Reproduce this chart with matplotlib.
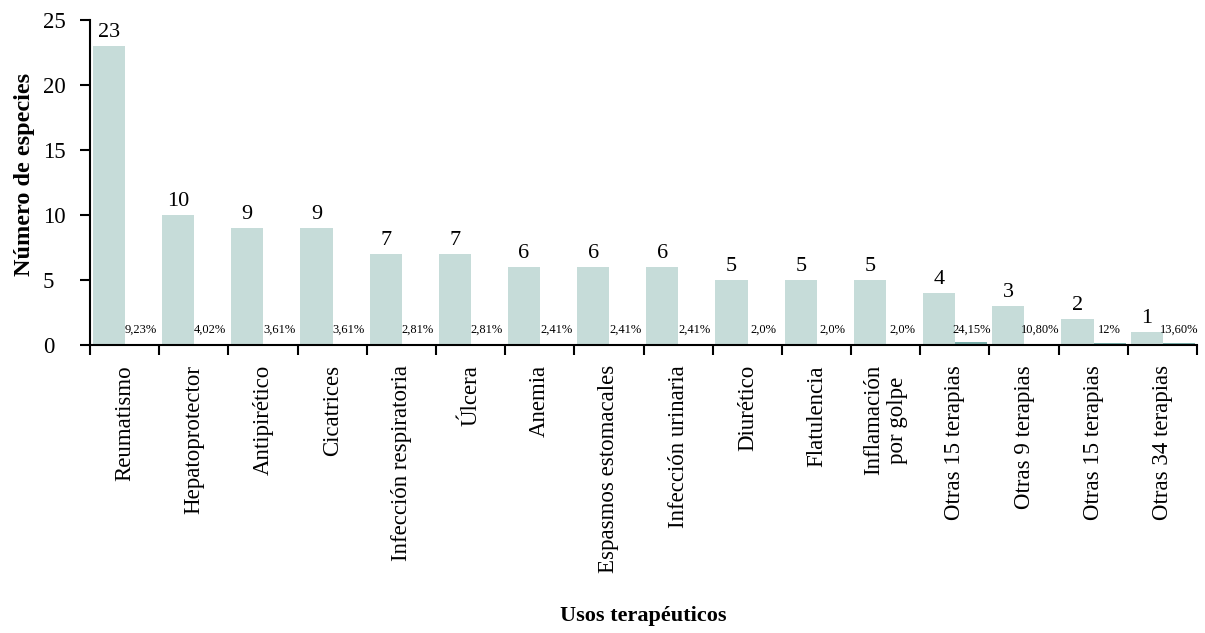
import matplotlib
matplotlib.use("Agg")
import matplotlib.pyplot as plt
import numpy as np

categories = ["Reumatismo", "Hepatoprotector", "Antipirético", "Cicatrices",
              "Infección respiratoria", "Úlcera", "Anemia", "Espasmos estomacales",
              "Infección urinaria", "Diurético", "Flatulencia", "Inflamación\npor golpe",
              "Otras 15 terapias", "Otras 9 terapias", "Otras 15 terapias", "Otras 34 terapias"]
especies = [23, 10, 9, 9, 7, 7, 6, 6, 6, 5, 5, 5, 4, 3, 2, 1]
porcentaje = [9.23, 4.02, 3.61, 3.61, 2.81, 2.81, 2.41, 2.41, 2.41, 2.0, 2.0, 2.0, 24.15, 10.80, 12, 13.60]
porcentaje_labels = ["9,23%", "4,02%", "3,61%", "3,61%", "2,81%", "2,81%", "2,41%", "2,41%",
                     "2,41%", "2,0%", "2,0%", "2,0%", "24,15%", "10,80%", "12%", "13,60%"]
yticks = [0, 5, 10, 15, 20, 25]

plt.rcParams['font.family'] = ['Liberation Serif', 'DejaVu Serif']

fig = plt.figure(figsize=(12.05, 6.33), dpi=100)
ax = fig.add_axes([0.0747, 0.455, 0.9187, 0.513])

x = np.arange(len(categories))
w = 0.465
main_c = "#c6dcd9"
sec_c = "#7aafab"
ax.bar(x + 0.04, especies, width=w, align='edge', color=main_c)
ax.bar(x + 0.04 + w, np.array(porcentaje) / 100.0, width=w, align='edge', color=sec_c)

for xi, v in zip(x, especies):
    ax.text(xi + 0.04 + w / 2, v + 0.7, str(v), ha='center', va='baseline', fontsize=16)
for xi, lab in zip(x, porcentaje_labels):
    ax.text(xi + 0.04 + 1.5 * w, 0.95, lab, ha='center', va='baseline', fontsize=9)

ax.set_xlim(0, len(categories))
ax.set_ylim(0, 25)
ax.set_yticks(yticks)
ax.set_yticklabels([str(t) for t in yticks], ha='left')
ax.set_xticks(np.arange(len(categories) + 1))
ax.set_xticklabels([])
ax.set_xticks(x + 0.5, minor=True)
ax.set_xticklabels(categories, minor=True, rotation=90, fontsize=16.5,
                   ha='center', va='top', multialignment='center')
ax.tick_params(axis='x', which='minor', length=0, pad=14.5)
ax.tick_params(axis='x', which='major', length=7.5, width=1.5, direction='out')
ax.tick_params(axis='y', length=7.5, width=1.5, direction='out', labelsize=16.5, pad=26.5)

for s in ['top', 'right']:
    ax.spines[s].set_visible(False)
for s in ['left', 'bottom']:
    ax.spines[s].set_linewidth(1.5)

ax.set_ylabel("Número de especies", fontsize=17.5, fontweight='bold')
ax.yaxis.set_label_coords(-0.0497, 0.525)
fig.text(0.534, 0.019, "Usos terapéuticos", ha='center', va='baseline', fontsize=16, fontweight='bold')

fig.savefig("out.png", dpi=100)
